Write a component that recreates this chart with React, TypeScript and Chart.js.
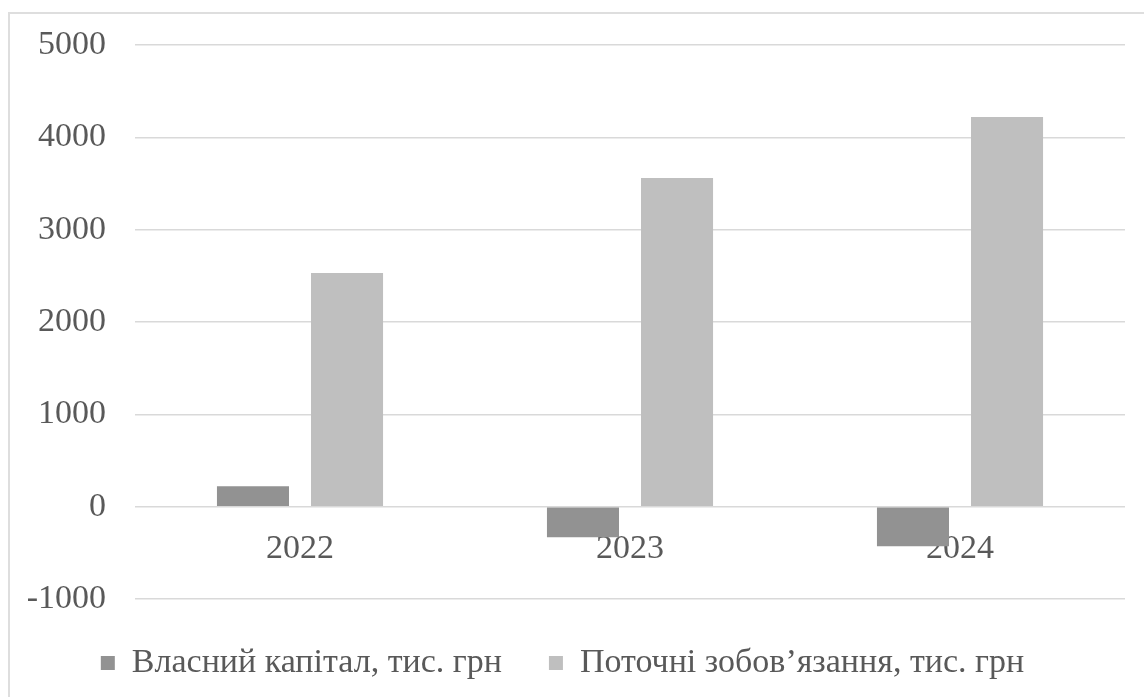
import React, { useEffect, useRef } from "react";
import { Chart, registerables } from "chart.js";

Chart.register(...registerables);

const categories = ["2022", "2023", "2024"];
const equityLabel = "Власний капітал, тис. грн";
const liabilitiesLabel = "Поточні зобов’язання, тис. грн";
const equityValues = [220, -330, -430];
const liabilitiesValues = [2530, 3560, 4220];
const yMin = -1000;
const yMax = 5000;
const yStep = 1000;

const FONT = "'Liberation Serif', 'Times New Roman', serif";
const TEXT = "#595959";
const GRID = "#d9d9d9";

export default function App() {
  const ref = useRef<HTMLCanvasElement | null>(null);

  useEffect(() => {
    if (!ref.current) return;
    const chart = new Chart(ref.current, {
      type: "bar",
      data: {
        labels: categories,
        datasets: [
          {
            label: equityLabel,
            data: equityValues,
            backgroundColor: "#929292",
            borderWidth: 0,
            categoryPercentage: 0.57,
            barPercentage: 0.766,
          },
          {
            label: liabilitiesLabel,
            data: liabilitiesValues,
            backgroundColor: "#bfbfbf",
            borderWidth: 0,
            categoryPercentage: 0.57,
            barPercentage: 0.766,
          },
        ],
      },
      options: {
        responsive: false,
        animation: false,
        devicePixelRatio: 1,
        layout: { padding: { top: 45, right: 19, bottom: 7, left: 0 } },
        plugins: {
          tooltip: { enabled: false },
          legend: {
            position: "bottom",
            labels: {
              color: TEXT,
              font: { family: FONT, size: 34 },
              boxWidth: 14,
              boxHeight: 14,
              padding: 47,
            },
          },
        },
        scales: {
          x: {
            position: { y: 0 },
            grid: { display: false, drawTicks: false },
            border: { display: false },
            ticks: {
              color: TEXT,
              font: { family: FONT, size: 34 },
              padding: 22,
            },
          },
          y: {
            min: yMin,
            max: yMax,
            afterFit: (s: any) => {
              s.width = 135;
              s.paddingTop = 0;
              s.paddingBottom = 0;
            },
            grid: { color: GRID, lineWidth: 1.5, drawTicks: false },
            border: { display: false },
            ticks: {
              stepSize: yStep,
              color: TEXT,
              font: { family: FONT, size: 34 },
              padding: 29,
              callback: (v: any) => String(v),
            },
          },
        },
      },
    });
    return () => chart.destroy();
  }, []);

  return (
    <div
      style={{
        position: "fixed",
        left: 0,
        top: 0,
        width: 1144,
        height: 697,
        overflow: "hidden",
        background: "#fff",
      }}
    >
      <div
        style={{
          position: "absolute",
          left: 8,
          top: 12,
          width: 1400,
          height: 1000,
          border: "2px solid #dedede",
        }}
      />
      <canvas
        ref={ref}
        width={1144}
        height={697}
        style={{ position: "absolute", left: 0, top: 0 }}
      />
    </div>
  );
}
